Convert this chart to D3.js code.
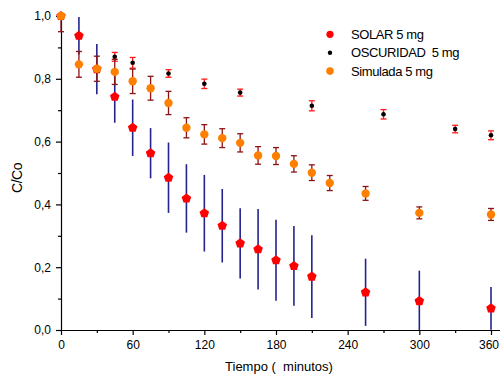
<!DOCTYPE html>
<html>
<head>
<meta charset="utf-8">
<script src="https://cdn.jsdelivr.net/npm/d3@7"></script>
<style>
  body { margin: 0; background: #fff; }
  svg { display: block; font-family: "Liberation Sans", Arial, sans-serif; }
</style>
</head>
<body>
<div id="chart"></div>
<script>
// data
const solarT = [0, 15, 30, 45, 60, 75, 90, 105, 120, 135, 150, 165, 180, 195, 210, 255, 300, 360];
const solarV = [1.0, 0.937, 0.831, 0.743, 0.644, 0.563, 0.485, 0.419, 0.372, 0.332, 0.276, 0.257, 0.222, 0.204, 0.170, 0.120, 0.092, 0.069];
const solarErr = [0, 0.06, 0.08, 0.083, 0.09, 0.08, 0.112, 0.109, 0.122, 0.117, 0.112, 0.128, 0.129, 0.127, 0.132, 0.107, 0.097, 0.068];

const oscT = [0, 45, 60, 90, 120, 150, 210, 270, 330, 360];
const oscV = [1.0, 0.870, 0.851, 0.817, 0.784, 0.756, 0.714, 0.687, 0.640, 0.620];
const oscErr = [0, 0.014, 0.017, 0.012, 0.015, 0.011, 0.016, 0.015, 0.012, 0.014];

const simT = [0, 15, 30, 45, 60, 75, 90, 105, 120, 135, 150, 165, 180, 195, 210, 225, 255, 300, 360];
const simV = [1.0, 0.846, 0.832, 0.822, 0.792, 0.770, 0.723, 0.644, 0.623, 0.611, 0.596, 0.556, 0.554, 0.529, 0.501, 0.468, 0.435, 0.373, 0.368];
const simErr = [0.05, 0.041, 0.04, 0.04, 0.039, 0.038, 0.037, 0.032, 0.031, 0.03, 0.029, 0.028, 0.027, 0.026, 0.025, 0.024, 0.022, 0.019, 0.019];

const xTicks = [0, 60, 120, 180, 240, 300, 360];
const yTicks = [0, 0.2, 0.4, 0.6, 0.8, 1.0];
const legendLabels = ["SOLAR 5 mg", "OSCURIDAD  5 mg", "Simulada 5 mg"];

const width = 500, height = 375;

const svg = d3.select('#chart').append('svg')
    .attr('width', width)
    .attr('height', height);

// scales: 0..360 min -> 61..491 px, axis runs on to the edge
const x = d3.scaleLinear([0, 368], [61, 61 + 368 * 430 / 360]);
const y = d3.scaleLinear([0, 1.006], [330, 330 - 1.006 * 314]);

// clip error bars to the plot area
svg.append('clipPath').attr('id', 'plotclip')
  .append('rect')
    .attr('x', 0).attr('y', y(1)).attr('width', width).attr('height', y(0) - y(1));

// axes
const fmt = d => d3.format('.1f')(d).replace('.', ',');

svg.append('g')
    .attr('transform', `translate(0,${y(0)})`)
    .call(d3.axisBottom(x).tickValues(d3.range(30, 368, 60)).tickSize(3).tickFormat(''))
    .call(g => g.select('.domain').remove());
svg.append('g')
    .attr('transform', `translate(0,${y(0)})`)
    .call(d3.axisBottom(x).tickValues(xTicks).tickSize(5).tickSizeOuter(0).tickPadding(5).tickFormat(d3.format('d')))
    .call(g => g.selectAll('text').attr('font-size', 12).attr('font-family', null))
    // last label sits at the window edge, nudge it in so it stays whole
    .call(g => g.selectAll('.tick').filter(d => d === 360).select('text').attr('x', -2.5));

svg.append('g')
    .attr('transform', `translate(${x(0)},0)`)
    .call(d3.axisLeft(y).tickValues(d3.range(0.1, 1, 0.2)).tickSize(3).tickFormat(''))
    .call(g => g.select('.domain').remove());
svg.append('g')
    .attr('transform', `translate(${x(0)},0)`)
    .call(d3.axisLeft(y).tickValues(yTicks).tickSize(5).tickSizeOuter(0).tickPadding(5).tickFormat(fmt))
    .call(g => g.selectAll('text').attr('font-size', 12).attr('font-family', null));

svg.selectAll('.domain, .tick line').attr('stroke', '#000').attr('stroke-width', 1.2);

// axis titles
svg.append('text')
    .attr('x', 279).attr('y', 371)
    .attr('text-anchor', 'middle')
    .attr('font-size', 13)
    .style('white-space', 'pre')
    .text('Tiempo (  minutos)');

svg.append('text')
    .attr('transform', 'translate(22,178) rotate(-90)')
    .attr('text-anchor', 'middle')
    .attr('font-size', 14)
    .attr('letter-spacing', -0.5)
    .text('C/Co');

// pentagon symbol for the SOLAR series
const pentagon = {
  draw(ctx, size) {
    const r = Math.sqrt(size / 2.378);
    for (let i = 0; i < 5; i++) {
      const a = -Math.PI / 2 + i * 2 * Math.PI / 5;
      if (i === 0) ctx.moveTo(r * Math.cos(a), r * Math.sin(a));
      else ctx.lineTo(r * Math.cos(a), r * Math.sin(a));
    }
    ctx.closePath();
  }
};

function series(ts, vs, es) {
  return ts.map((t, i) => ({t: t, v: vs[i], e: es[i]}));
}

function errorBars(data, color, cap, sw) {
  const g = svg.append('g').attr('clip-path', 'url(#plotclip)')
      .attr('stroke', color).attr('stroke-width', sw).attr('fill', 'none');
  const eb = g.selectAll('g').data(data.filter(d => d.e > 0)).join('g');
  eb.append('line')
      .attr('x1', d => x(d.t)).attr('x2', d => x(d.t))
      .attr('y1', d => y(d.v + d.e)).attr('y2', d => y(d.v - d.e));
  if (cap > 0) {
    eb.append('line')
        .attr('x1', d => x(d.t) - cap).attr('x2', d => x(d.t) + cap)
        .attr('y1', d => y(d.v + d.e)).attr('y2', d => y(d.v + d.e));
    eb.append('line')
        .attr('x1', d => x(d.t) - cap).attr('x2', d => x(d.t) + cap)
        .attr('y1', d => y(d.v - d.e)).attr('y2', d => y(d.v - d.e));
  }
}

const solar = series(solarT, solarV, solarErr);
const osc = series(oscT, oscV, oscErr);
const sim = series(simT, simV, simErr);

// SOLAR
errorBars(solar, '#23238c', 0, 1.6);
svg.append('g').selectAll('path').data(solar).join('path')
    .attr('transform', d => `translate(${x(d.t)},${y(d.v)})`)
    .attr('d', d3.symbol(pentagon, 60))
    .attr('fill', '#ff0000');

// OSCURIDAD
errorBars(osc, '#ff1a1a', 3, 1.3);
svg.append('g').selectAll('circle').data(osc).join('circle')
    .attr('cx', d => x(d.t)).attr('cy', d => y(d.v))
    .attr('r', 2.3)
    .attr('fill', '#000');

// Simulada
errorBars(sim, '#8b1414', 3, 1.3);
svg.append('g').selectAll('circle').data(sim).join('circle')
    .attr('cx', d => x(d.t)).attr('cy', d => y(d.v))
    .attr('r', 4.2)
    .attr('fill', '#ff8000');

// legend
const legendColors = ['#ff0000', '#000', '#ff8000'];
const legendR = [3.6, 2.2, 3.8];
const lg = svg.append('g').selectAll('g').data(legendLabels).join('g')
    .attr('transform', (d, i) => `translate(330,${34.3 + i * 18.4})`);
lg.append('circle')
    .attr('r', (d, i) => legendR[i])
    .attr('fill', (d, i) => legendColors[i]);
lg.append('text')
    .attr('x', 21).attr('dy', '0.35em')
    .attr('font-size', 13)
    .attr('letter-spacing', -0.4)
    .style('white-space', 'pre')
    .text(d => d);
</script>
</body>
</html>
